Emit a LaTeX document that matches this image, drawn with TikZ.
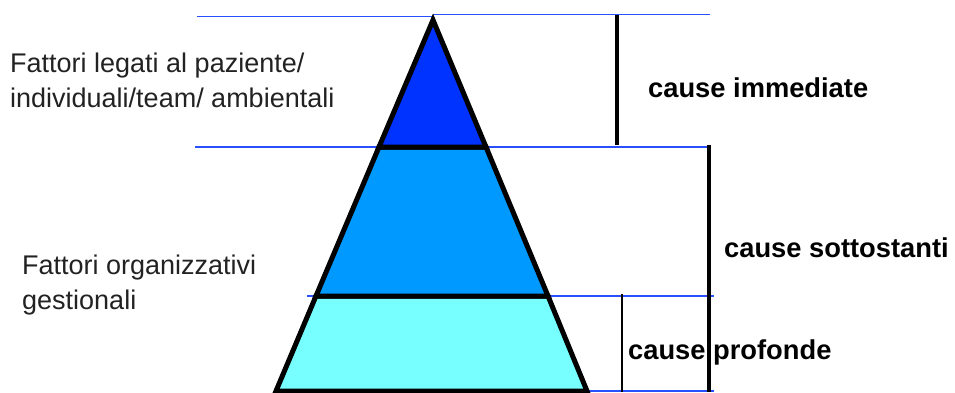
\documentclass[tikz,border=0pt]{standalone}
\usepackage{fontspec}
\setmainfont{Liberation Sans}
\definecolor{topblue}{RGB}{0,51,255}
\definecolor{midblue}{RGB}{0,153,255}
\definecolor{lowcyan}{RGB}{119,255,255}
\definecolor{guide}{RGB}{40,80,255}
\definecolor{textgray}{RGB}{34,34,34}
\begin{document}
\begin{tikzpicture}[x=1pt,y=-1pt,
  guideline/.style={draw=guide,line width=1.2pt},
  band/.style={draw=black,line width=5pt,line join=miter},
  bracket/.style={draw=black,line width=4pt},
  thinbracket/.style={draw=black,line width=2.5pt},
  lefttext/.style={anchor=west,align=left,text=textgray,font=\fontsize{27}{35}\selectfont,inner sep=0pt},
  causetext/.style={anchor=west,text=black,font=\fontsize{27.3}{32}\selectfont\bfseries,inner sep=0pt}]
\useasboundingbox (0,0) rectangle (955,392);
% guide lines
\draw[guideline] (197,16.5) -- (432,16.5);
\draw[guideline] (433,14.5) -- (710,14.5);
\draw[guideline] (195,147) -- (710,147);
\draw[guideline] (307,296) -- (714,296);
\draw[guideline] (586,391) -- (714,391);
% pyramid
\coordinate (apex) at (433,20);
\coordinate (l1) at (379,147);
\coordinate (r1) at (486,147);
\coordinate (l2) at (316,296);
\coordinate (r2) at (548,296);
\coordinate (l3) at (276,391);
\coordinate (r3) at (587,391);
\filldraw[band,fill=lowcyan] (l2) -- (r2) -- (r3) -- (l3) -- cycle;
\filldraw[band,fill=midblue] (l1) -- (r1) -- (r2) -- (l2) -- cycle;
\filldraw[band,fill=topblue] (apex) -- (r1) -- (l1) -- cycle;
% brackets
\coordinate (b1t) at (617,15);
\coordinate (b1b) at (617,145);
\coordinate (b2t) at (709,145);
\coordinate (b2b) at (709,392);
\coordinate (b3t) at (622,294);
\coordinate (b3b) at (622,392);
\draw[bracket] (b1t) -- (b1b);
\draw[bracket] (b2t) -- (b2b);
\draw[thinbracket] (b3t) -- (b3b);
% texts
\node[lefttext] (t1) at (10,80) {Fattori legati al paziente/\\individuali/team/ ambientali};
\node[lefttext] (t2) at (22,285) {Fattori organizzativi\\gestionali};
\node[causetext] (c1) at (648,88) {cause immediate};
\node[causetext] (c2) at (724,248) {cause sottostanti};
\node[causetext] (c3) at (628,352) {cause profonde};
\end{tikzpicture}
\end{document}
